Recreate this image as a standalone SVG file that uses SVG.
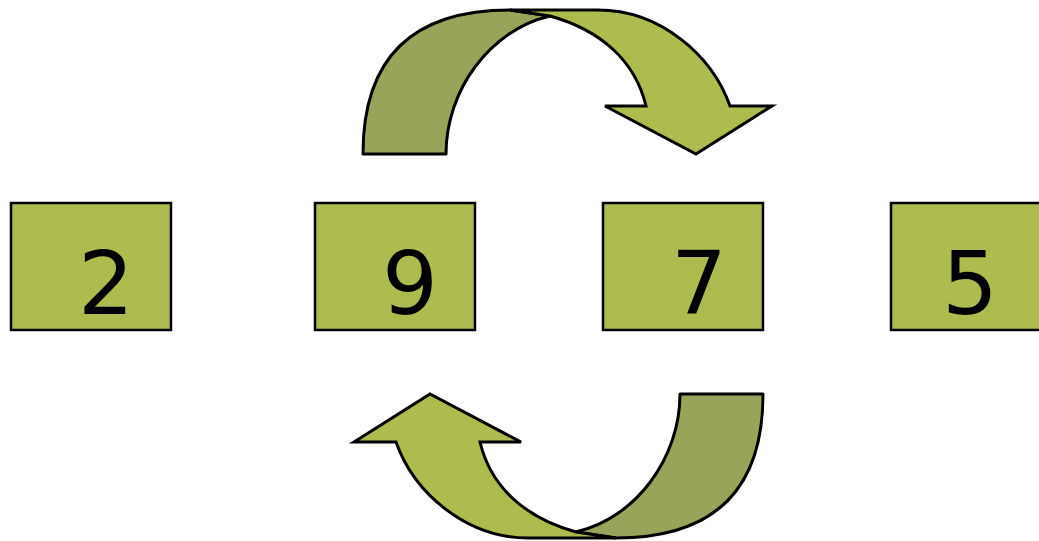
<svg xmlns="http://www.w3.org/2000/svg" width="1039" height="541" viewBox="0 0 1039 541">
<style>
.box{fill:#AEBB4F;stroke:#000;stroke-width:2.5}
.lbl{font-family:"DejaVu Sans",sans-serif;font-size:88px;fill:#000;text-anchor:middle}
.dark{fill:#99A35A;stroke:#000;stroke-width:3;stroke-linejoin:round}
.light{fill:#AEBB4F;stroke:#000;stroke-width:3;stroke-linejoin:miter}
</style>
<defs>
<g id="arc">
<path class="dark" d="M363,154 C363,60 410,10 510,10 L550,16 C490,30 446,90 446,154 Z"/>
<path class="light" d="M510,10 L598,10 C660,10 712,55 730,106 L772,106 L696,154 L605,106 L646,106 C635,60 600,30 550,16 Z"/>
</g>
</defs>
<g id="connectors">
<use href="#arc"/>
<use href="#arc" transform="rotate(180 563 274)"/>
</g>
<g id="n2"><rect class="box" x="11" y="203" width="160" height="127"/><text class="lbl" x="106" y="314">2</text></g>
<g id="n9"><rect class="box" x="315" y="203" width="160" height="127"/><text class="lbl" x="410" y="314">9</text></g>
<g id="n7"><rect class="box" x="603" y="203" width="160" height="127"/><text class="lbl" x="699" y="314">7</text></g>
<g id="n5"><rect class="box" x="891" y="203" width="160" height="127"/><text class="lbl" x="970" y="314">5</text></g>
</svg>
